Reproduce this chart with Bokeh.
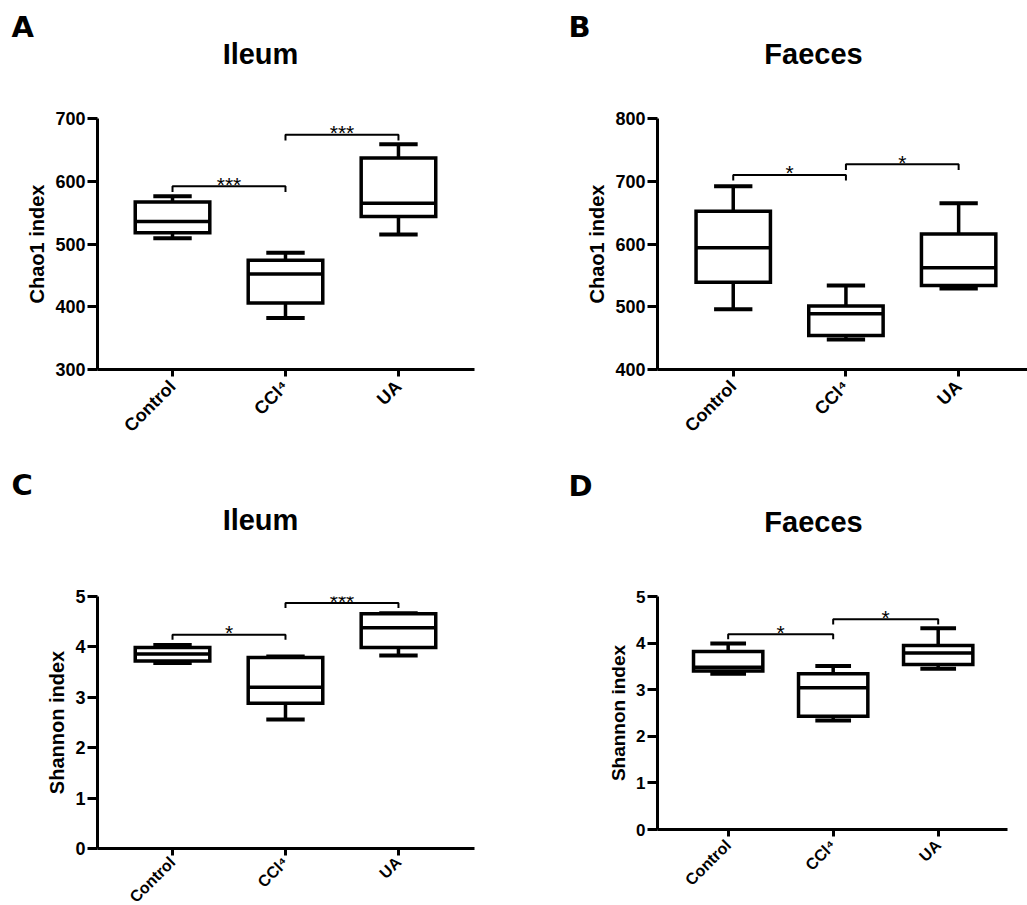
import math
from bokeh.plotting import figure
from bokeh.layouts import column, row
from bokeh.models import FixedTicker
from bokeh.core.properties import value
from bokeh.embed import file_html
from bokeh.resources import INLINE

# ---------------- data ----------------
groups = ["Control", "CCl\u2074", "UA"]
group_x = [1, 2, 3]

# A: Ileum, Chao1
a_low = [509, 382, 515]
a_q1 = [518, 406, 544]
a_med = [536, 452, 565]
a_q3 = [567, 474, 637]
a_high = [576, 486, 659]
a_ticks = [300, 400, 500, 600, 700]
a_sig_y = [592, 674]
a_sig_txt = ["***", "***"]

# B: Faeces, Chao1
b_low = [496, 448, 529]
b_q1 = [539, 454, 534]
b_med = [594, 489, 562]
b_q3 = [652, 501, 616]
b_high = [692, 534, 665]
b_ticks = [400, 500, 600, 700, 800]
b_sig_y = [710, 727]
b_sig_txt = ["*", "*"]

# C: Ileum, Shannon
c_low = [3.68, 2.56, 3.83]
c_q1 = [3.72, 2.88, 3.99]
c_med = [3.86, 3.20, 4.38]
c_q3 = [3.99, 3.79, 4.66]
c_high = [4.04, 3.81, 4.67]
c_ticks = [0, 1, 2, 3, 4, 5]
c_sig_y = [4.24, 4.87]
c_sig_txt = ["*", "***"]

# D: Faeces, Shannon
d_low = [3.34, 2.34, 3.45]
d_q1 = [3.40, 2.43, 3.54]
d_med = [3.48, 3.04, 3.79]
d_q3 = [3.82, 3.34, 3.95]
d_high = [3.99, 3.51, 4.32]
d_ticks = [0, 1, 2, 3, 4, 5]
d_sig_y = [4.19, 4.51]
d_sig_txt = ["*", "*"]

pairs = [(1, 2), (2, 3)]

FONT = "Liberation Sans"


def header(width, height, letter, letter_pos, title, title_pos):
    h = figure(width=width, height=height, x_range=(0, width), y_range=(height, 0),
               min_border=0, x_axis_location=None, y_axis_location=None,
               output_backend="svg", toolbar_location=None)
    h.outline_line_color = None
    h.grid.visible = False
    h.text(x=[letter_pos[0]], y=[letter_pos[1]], text=[letter], text_align="left",
           text_baseline="middle", text_font=value("DejaVu Sans"),
           text_font_style="bold", text_font_size="29px", text_color="black")
    h.text(x=[title_pos[0]], y=[title_pos[1]], text=[title], text_align="center",
           text_baseline="middle", text_font=value(FONT),
           text_font_style="bold", text_font_size="29px", text_color="black")
    return h


def panel(ylabel, low, q1, med, q3, high, ticks, sig_y, sig_txt,
          sig_drop, xr, left, fw, right, top, fh, bottom, tick_fs, lab_fs, ax_fs,
          lab_standoff):
    p = figure(frame_width=fw, frame_height=fh, min_border_left=left,
               min_border_right=right, min_border_top=top, min_border_bottom=bottom,
               x_range=xr, y_range=(ticks[0], ticks[-1]),
               output_backend="svg", toolbar_location=None)
    p.outline_line_color = None
    p.xgrid.visible = False
    p.ygrid.visible = False
    p.background_fill_color = "white"
    p.border_fill_color = "white"

    for ax in (p.xaxis[0], p.yaxis[0]):
        ax.axis_line_width = 3
        ax.axis_line_color = "black"
        ax.major_tick_line_width = 3
        ax.major_tick_line_color = "black"
        ax.minor_tick_line_color = None
        ax.major_tick_in = 0
        ax.major_label_text_font = FONT
        ax.major_label_text_font_style = "bold"
        ax.major_label_text_color = "black"
    p.yaxis.ticker = FixedTicker(ticks=ticks)
    p.yaxis.major_tick_out = 10
    p.yaxis.major_label_standoff = 2
    p.yaxis.major_label_text_font_size = tick_fs
    p.yaxis.axis_label = ylabel
    p.yaxis.axis_label_text_font = FONT
    p.yaxis.axis_label_text_font_style = "bold"
    p.yaxis.axis_label_text_font_size = ax_fs
    p.yaxis.axis_label_text_color = "black"
    p.yaxis.axis_label_standoff = 4

    p.xaxis.ticker = FixedTicker(ticks=group_x)
    p.xaxis.major_label_overrides = {gx: g for gx, g in zip(group_x, groups)}
    p.xaxis.major_tick_out = 7
    p.xaxis.major_label_orientation = math.pi / 4
    p.xaxis.major_label_standoff = lab_standoff
    p.xaxis.major_label_text_font_size = lab_fs

    hw = 0.33
    cw = 0.17
    # whiskers
    p.segment(x0=group_x, y0=q3, x1=group_x, y1=high, line_width=3.5, line_color="black")
    p.segment(x0=group_x, y0=q1, x1=group_x, y1=low, line_width=3.5, line_color="black")
    # caps
    p.segment(x0=[x - cw for x in group_x], y0=high, x1=[x + cw for x in group_x], y1=high,
              line_width=4, line_color="black")
    p.segment(x0=[x - cw for x in group_x], y0=low, x1=[x + cw for x in group_x], y1=low,
              line_width=4, line_color="black")
    # boxes
    p.quad(left=[x - hw for x in group_x], right=[x + hw for x in group_x],
           bottom=q1, top=q3, fill_color="white", line_color="black", line_width=3.5,
           line_join="miter")
    # medians
    p.segment(x0=[x - hw for x in group_x], y0=med, x1=[x + hw for x in group_x], y1=med,
              line_width=3.5, line_color="black")

    # significance brackets
    xs, ys = [], []
    for (a, b), y in zip(pairs, sig_y):
        xs.append([a, a, b, b])
        ys.append([y - sig_drop, y, y, y - sig_drop])
    p.multi_line(xs=xs, ys=ys, line_color="black", line_width=2)
    p.text(x=[(a + b) / 2 for a, b in pairs], y=sig_y, text=sig_txt,
           text_align="center", text_baseline="alphabetic", y_offset=-2,
           text_font=value(FONT), text_font_size="21px", text_color="black")
    return p


hA = header(513, 80, "A", (11, 26), "Ileum", (260, 53))
hB = header(514, 80, "B", (55, 26), "Faeces", (300, 53))
hC = header(513, 90, "C", (11, 24), "Ileum", (260, 59))
hD = header(514, 90, "D", (55, 25), "Faeces", (300, 61))

pA = panel("Chao1 index", a_low, a_q1, a_med, a_q3, a_high, a_ticks,
           a_sig_y, a_sig_txt, 9, (0.336, 3.673), 97, 377, 39, 38, 251, 91,
           "18px", "18px", "20px", 7)
pB = panel("Chao1 index", b_low, b_q1, b_med, b_q3, b_high, b_ticks,
           b_sig_y, b_sig_txt, 9, (0.328, 3.611), 144, 370, 0, 38, 251, 91,
           "18px", "18px", "20px", 7)
pC = panel("Shannon index", c_low, c_q1, c_med, c_q3, c_high, c_ticks,
           c_sig_y, c_sig_txt, 0.1, (0.336, 3.673), 97, 377, 39, 35, 252, 68,
           "18px", "16px", "20px", 4)
pD = panel("Shannon index", d_low, d_q1, d_med, d_q3, d_high, d_ticks,
           d_sig_y, d_sig_txt, 0.11, (0.327, 3.66), 144, 350, 20, 46, 233, 76,
           "17px", "16px", "19px", 6)

layout = column(row(hA, hB), row(pA, pB), row(hC, hD), row(pC, pD))
open("out.html", "w").write(file_html(layout, INLINE))
